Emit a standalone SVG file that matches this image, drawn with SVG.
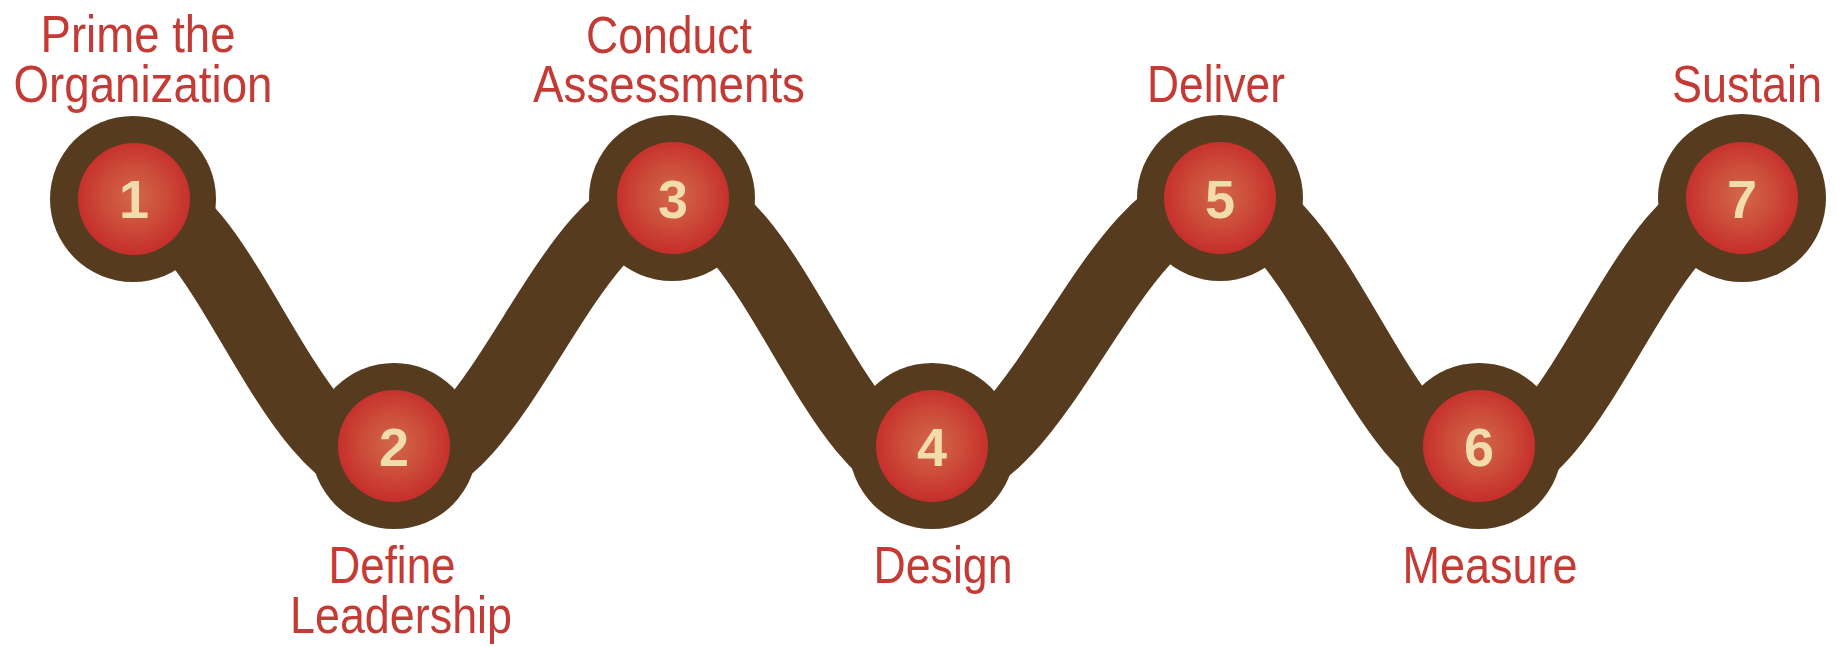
<svg xmlns="http://www.w3.org/2000/svg" width="1837" height="647" viewBox="0 0 1837 647">
<defs>
<radialGradient id="ball" cx="50%" cy="48%" r="50%">
<stop offset="0" stop-color="#d2684a"/>
<stop offset="0.55" stop-color="#cc4c39"/>
<stop offset="1" stop-color="#c6302c"/>
</radialGradient>
</defs>
<style>
.band{fill:none;stroke:#563b1e;stroke-width:70}
.outer{fill:#563b1e}
.inner{fill:url(#ball)}
.num{font-family:"Liberation Sans",Arial,sans-serif;font-weight:bold;font-size:54px;fill:#f3dcab;text-anchor:middle}
.lbl{font-family:"Liberation Sans",Arial,sans-serif;font-size:52px;fill:#c43b36;text-anchor:middle}
</style>
<rect width="1837" height="647" fill="#ffffff"/>
<g id="connectors">
<path class="band" d="M133,198 C224,198 287,472 394,472 C500,472 566,198 672,198 C771,198 833,472 932,472 C1041,472 1111,198 1220,198 C1318,198 1381,472 1479,472 C1579,472 1642,198 1742,198"/>
</g>
<g id="node1">
<circle class="outer" cx="133" cy="199" r="83"/>
<circle class="inner" cx="134" cy="199" r="56"/>
<text class="num" x="134" y="218">1</text>
<text class="lbl" x="138" y="52" textLength="195" lengthAdjust="spacingAndGlyphs">Prime the</text>
<text class="lbl" x="143" y="102" textLength="259" lengthAdjust="spacingAndGlyphs">Organization</text>
</g>
<g id="node2">
<circle class="outer" cx="394" cy="446" r="83"/>
<circle class="inner" cx="394" cy="446" r="56"/>
<text class="num" x="394" y="466">2</text>
<text class="lbl" x="392" y="583" textLength="127" lengthAdjust="spacingAndGlyphs">Define</text>
<text class="lbl" x="401" y="633" textLength="222" lengthAdjust="spacingAndGlyphs">Leadership</text>
</g>
<g id="node3">
<circle class="outer" cx="672" cy="198" r="83"/>
<circle class="inner" cx="673" cy="198" r="56"/>
<text class="num" x="673" y="218">3</text>
<text class="lbl" x="669" y="53" textLength="166" lengthAdjust="spacingAndGlyphs">Conduct</text>
<text class="lbl" x="669" y="102" textLength="272" lengthAdjust="spacingAndGlyphs">Assessments</text>
</g>
<g id="node4">
<circle class="outer" cx="932" cy="446" r="83"/>
<circle class="inner" cx="932" cy="446" r="56"/>
<text class="num" x="932" y="466">4</text>
<text class="lbl" x="943" y="583" textLength="139" lengthAdjust="spacingAndGlyphs">Design</text>
</g>
<g id="node5">
<circle class="outer" cx="1220" cy="198" r="83"/>
<circle class="inner" cx="1220" cy="198" r="56"/>
<text class="num" x="1220" y="218">5</text>
<text class="lbl" x="1216" y="102" textLength="138" lengthAdjust="spacingAndGlyphs">Deliver</text>
</g>
<g id="node6">
<circle class="outer" cx="1479" cy="446" r="83"/>
<circle class="inner" cx="1479" cy="446" r="56"/>
<text class="num" x="1479" y="466">6</text>
<text class="lbl" x="1490" y="583" textLength="175" lengthAdjust="spacingAndGlyphs">Measure</text>
</g>
<g id="node7">
<circle class="outer" cx="1742" cy="198" r="84"/>
<circle class="inner" cx="1742" cy="198" r="56"/>
<text class="num" x="1742" y="218">7</text>
<text class="lbl" x="1747" y="102" textLength="150" lengthAdjust="spacingAndGlyphs">Sustain</text>
</g>
</svg>
